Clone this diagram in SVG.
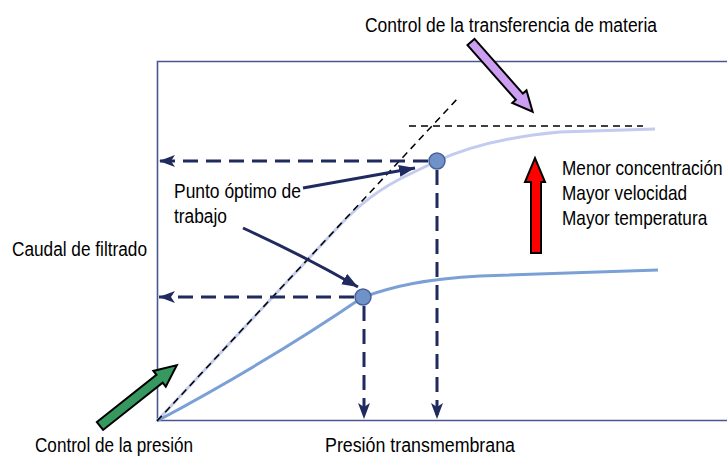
<svg xmlns="http://www.w3.org/2000/svg" width="727" height="457" viewBox="0 0 727 457">
<style>
text{font-family:"Liberation Sans",Arial,sans-serif;font-size:20px;fill:#000}
.axis{fill:none;stroke:#4b5690;stroke-width:1.6}
.proj{fill:none;stroke:#1f2a5e;stroke-width:3;stroke-dasharray:15 8}
.guide{fill:none;stroke:#000;stroke-width:1.5;stroke-dasharray:7 5}
.ptr{fill:none;stroke:#1f2a5e;stroke-width:3}
.dot{fill:#6f93c8;stroke:#4a5e9a;stroke-width:1.5}
.blk{stroke:#000;stroke-width:2;stroke-linejoin:miter}
</style>
<defs>
<marker id="ah" markerUnits="userSpaceOnUse" markerWidth="18" markerHeight="14" refX="16" refY="6" orient="auto">
<path d="M0,0 L16,6 L0,12 L4,6 Z" fill="#1f2a5e"/>
</marker>
<marker id="ah2" markerUnits="userSpaceOnUse" markerWidth="18" markerHeight="14" refX="16" refY="6" orient="auto">
<path d="M0,0 L16,6 L0,12 Z" fill="#1f2a5e"/>
</marker>
</defs>
<rect width="727" height="457" fill="#fff"/>
<g id="frame">
<path class="axis" d="M730,61.5 L157.5,61.5 L157.5,420.5 L730,420.5"/>
</g>
<g id="curves">
<path id="upper-curve" d="M157,421 L340,225 C360,204 380,188 410,174 L437,161 C470,146 515,136 560,132 L655,129" fill="none" stroke="#c3cbee" stroke-width="3"/>
<path id="lower-curve" d="M157,421 C230,382 300,340 363,297 C395,286 425,279 480,276 L658,270" fill="none" stroke="#7aa0d6" stroke-width="3"/>
<path id="guide-diag" class="guide" d="M157,421 L459,97"/>
<path id="guide-horiz" class="guide" d="M409,126 L643,126"/>
</g>
<g id="connectors">
<path class="proj" d="M428,161 L159,161" marker-end="url(#ah)"/>
<path class="proj" d="M437,170 L437,419" marker-end="url(#ah)"/>
<path class="proj" d="M354,297 L159,297" marker-end="url(#ah)"/>
<path class="proj" d="M364,306 L364,419" marker-end="url(#ah)"/>
<path class="ptr" d="M303,188 L415,168" marker-end="url(#ah2)"/>
<path class="ptr" d="M243,228 C280,245 320,265 358,287" marker-end="url(#ah2)"/>
</g>
<g id="point-upper"><circle class="dot" cx="437" cy="161" r="8"/></g>
<g id="point-lower"><circle class="dot" cx="363" cy="297" r="8"/></g>
<g id="arrow-pressure">
<polygon class="blk" fill="#36985e" points="0,-5 76,-5 76,-10 98,0 76,10 76,5 0,5" transform="translate(100,426) rotate(-38.4)"/>
</g>
<g id="arrow-transfer">
<polygon class="blk" fill="#cc9ef2" points="0,-4.7 73,-4.7 73,-9.5 93,0 73,9.5 73,4.7 0,4.7" transform="translate(471,42) rotate(48.5)"/>
</g>
<g id="arrow-conditions">
<polygon class="blk" fill="#ff0000" points="531,253 531,182 525,182 535,158 545,182 541,182 541,253"/>
</g>
<g id="labels">
<text x="365" y="32" textLength="292" lengthAdjust="spacingAndGlyphs">Control de la transferencia de materia</text>
<text transform="translate(562,175) scale(0.86,1)">Menor concentración</text>
<text transform="translate(562,200) scale(0.86,1)">Mayor velocidad</text>
<text transform="translate(562,225) scale(0.86,1)">Mayor temperatura</text>
<text x="12" y="256" textLength="135" lengthAdjust="spacingAndGlyphs">Caudal de filtrado</text>
<text x="174" y="198" textLength="127" lengthAdjust="spacingAndGlyphs">Punto óptimo de</text>
<text x="174" y="223" textLength="53" lengthAdjust="spacingAndGlyphs">trabajo</text>
<text x="35" y="452" textLength="158" lengthAdjust="spacingAndGlyphs">Control de la presión</text>
<text x="325" y="452" textLength="190" lengthAdjust="spacingAndGlyphs">Presión transmembrana</text>
</g>
</svg>
